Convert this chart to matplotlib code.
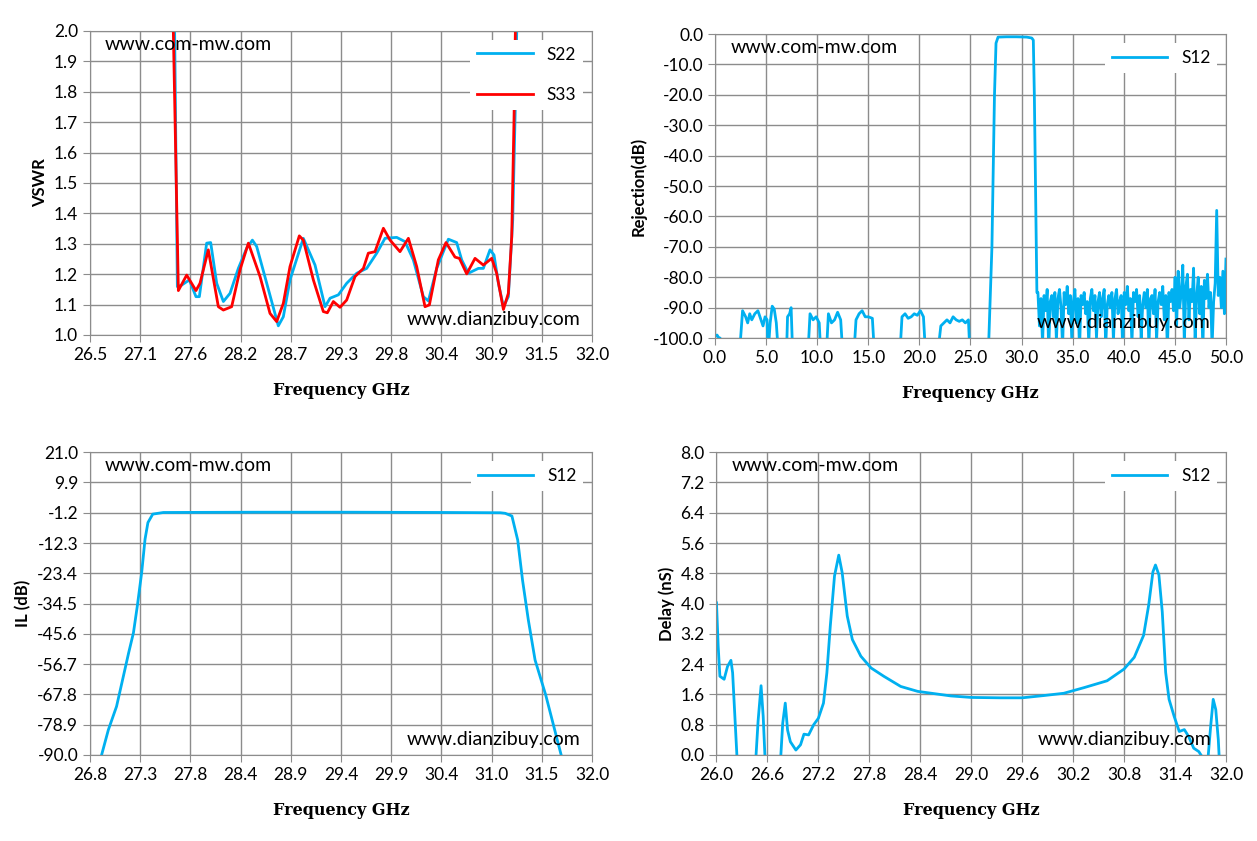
import numpy as np
import matplotlib
matplotlib.use("Agg")
import matplotlib.pyplot as plt

# VSWR (top left)
s22_freq = [27.42, 27.457, 27.504, 27.588, 27.661, 27.698, 27.778, 27.822, 27.888, 27.961, 28.034, 28.125,
            28.216, 28.279, 28.326, 28.436, 28.563, 28.618, 28.691, 28.837, 28.965, 29.075, 29.130, 29.221,
            29.312, 29.422, 29.531, 29.641, 29.732, 29.860, 29.951, 30.042, 30.152, 30.207, 30.298, 30.426,
            30.517, 30.572, 30.645, 30.755, 30.809, 30.882, 30.926, 30.974, 31.029, 31.083, 31.131, 31.160,
            31.175, 31.19]
s22_vswr = [2.2, 1.159, 1.164, 1.181, 1.126, 1.126, 1.302, 1.304, 1.170, 1.110, 1.137, 1.219,
            1.285, 1.312, 1.291, 1.170, 1.030, 1.060, 1.181, 1.318, 1.230, 1.093, 1.121, 1.132,
            1.170, 1.203, 1.219, 1.269, 1.318, 1.321, 1.307, 1.247, 1.126, 1.112, 1.219, 1.315,
            1.304, 1.247, 1.203, 1.219, 1.219, 1.280, 1.263, 1.170, 1.093, 1.126, 1.378, 1.762,
            2.0, 2.2]
s33_freq = [27.40, 27.468, 27.559, 27.661, 27.705, 27.796, 27.906, 27.961, 28.052, 28.143, 28.235, 28.363,
            28.472, 28.545, 28.618, 28.691, 28.793, 28.837, 28.947, 29.056, 29.100, 29.166, 29.239, 29.312,
            29.403, 29.495, 29.549, 29.622, 29.714, 29.787, 29.896, 29.988, 30.079, 30.170, 30.218, 30.316,
            30.400, 30.499, 30.547, 30.627, 30.718, 30.809, 30.901, 30.955, 31.029, 31.083, 31.120, 31.145,
            31.160, 31.17]
s33_vswr = [2.2, 1.146, 1.197, 1.146, 1.170, 1.280, 1.093, 1.082, 1.093, 1.214, 1.302, 1.192,
            1.071, 1.044, 1.104, 1.225, 1.326, 1.312, 1.181, 1.077, 1.073, 1.110, 1.091, 1.115,
            1.192, 1.219, 1.269, 1.274, 1.351, 1.312, 1.274, 1.318, 1.225, 1.093, 1.099, 1.247,
            1.304, 1.256, 1.252, 1.201, 1.252, 1.230, 1.252, 1.203, 1.084, 1.137, 1.323, 1.707,
            2.0, 2.2]
vswr_xlabels = ["26.5", "27.1", "27.6", "28.2", "28.7", "29.3", "29.8", "30.4", "30.9", "31.5", "32.0"]

# Rejection (top right)
rej_freq = [0.0, 0.2, 0.35, 0.5, 0.7,
            2.4, 2.7, 3.0, 3.2, 3.4, 3.6, 3.9, 4.2, 4.5, 4.7, 4.9, 5.1, 5.2, 5.4, 5.6, 5.8, 6.0, 6.2,
            7.0, 7.1, 7.3, 7.45, 7.6,
            9.1, 9.3, 9.6, 9.9, 10.2, 10.35,
            10.9, 11.1, 11.4, 11.7, 12.0, 12.3, 12.5,
            13.6, 13.8, 14.1, 14.4, 14.7, 15.0, 15.4, 15.6,
            18.1, 18.3, 18.6, 18.9, 19.2, 19.5, 19.8, 20.1, 20.4, 20.6,
            21.8, 22.1, 22.4, 22.7, 23.0, 23.3, 23.6, 23.9, 24.2, 24.5, 24.8, 24.95,
            26.5, 26.8, 27.1, 27.35, 27.5, 27.7, 28.5, 29.5, 30.5, 31.0, 31.15, 31.25, 31.4, 31.5]
rej_db = [-99.5, -99, -99.8, -100, -105,
          -105, -91, -93, -95, -92, -94, -92, -91, -94, -96, -93, -94, -105, -95, -89.5, -90.5, -95, -105,
          -105, -93, -92, -90, -105,
          -105, -92, -94, -93, -95, -105,
          -105, -92, -95, -94, -91.5, -94, -105,
          -105, -94, -92, -91, -93, -93, -93.5, -105,
          -105, -93, -92, -93.5, -93, -92, -92.5, -91, -93, -105,
          -105, -96, -95, -94, -95, -93, -94, -94.5, -94, -95, -94, -105,
          -105, -100, -70, -20, -3, -1.0, -0.9, -0.9, -1.0, -1.3, -2, -20, -60, -85]
noise_db = [-85, -96, -87, -102, -86, -91, -84, -104, -88, -86,
            -93, -85, -101, -87, -84, -90, -103, -85, -89, -83,
            -92, -86, -101, -88, -84, -95, -87, -104, -86, -89,
            -85, -92, -88, -102, -87, -84, -91, -86, -100, -88,
            -85, -93, -87, -84, -103, -89, -86, -90, -85, -101,
            -87, -84, -92, -88, -86, -104, -85, -89, -83, -91,
            -87, -102, -85, -88, -84, -93, -86, -100, -89, -85,
            -90, -84, -103, -87, -86, -92, -84, -101, -88, -85,
            -89, -83, -94, -86, -104, -85, -88, -84, -91, -80,
            -96, -78, -90, -85, -76, -102, -83, -79, -94, -84,
            -88, -77, -101, -86, -80, -92, -83, -104, -81, -87,
            -79, -90, -85, -103, -88, -82, -58, -86, -80, -90, -78, -92, -74]
noise_freq = np.linspace(31.6, 50.0, len(noise_db))

# Insertion loss (bottom left)
il_freq = [26.92, 26.99, 27.075, 27.13, 27.2, 27.25, 27.29, 27.335, 27.37, 27.40, 27.45, 27.56,
           28.5, 29.5, 30.5, 31.05, 31.1, 31.17, 31.23, 31.28, 31.34, 31.41, 31.52, 31.60, 31.68]
il_db = [-90, -80.8, -72.2, -63.6, -52.6, -45.2, -35.4, -23.2, -10.9, -4.8, -1.7, -1.1,
         -1.0, -1.0, -1.1, -1.2, -1.4, -2.4, -11.2, -25.9, -40.5, -55.2, -68, -79, -90]

# Group delay (bottom right)
dl_freq = [26.0, 26.02, 26.04, 26.09, 26.13, 26.17, 26.19, 26.24, 26.26,
           26.45, 26.466, 26.49, 26.525, 26.55, 26.57, 26.59,
           26.74, 26.758, 26.78, 26.81, 26.837, 26.87, 26.935, 26.99, 27.03, 27.085, 27.145, 27.20,
           27.26, 27.30, 27.34, 27.39, 27.44, 27.48, 27.54, 27.60, 27.70, 27.82, 27.97, 28.17, 28.37,
           28.76, 29.0, 29.345, 29.6, 29.855, 30.09, 30.33, 30.60, 30.80, 30.92, 31.03, 31.09, 31.14,
           31.17, 31.21, 31.25, 31.29, 31.33, 31.39, 31.45, 31.51, 31.56, 31.62, 31.68, 31.72, 31.74,
           31.77, 31.79, 31.82, 31.85, 31.88, 31.91, 31.92, 31.94]
dl_ns = [4.02, 2.87, 2.08, 2.0, 2.34, 2.50, 2.17, 0.0, -0.3,
         -0.3, 0.0, 0.9, 1.83, 1.02, 0.0, -0.3,
         -0.3, 0.0, 0.84, 1.37, 0.66, 0.35, 0.13, 0.27, 0.55, 0.53, 0.8, 0.97,
         1.37, 2.17, 3.40, 4.73, 5.28, 4.82, 3.67, 3.05, 2.61, 2.30, 2.08, 1.81, 1.68,
         1.56, 1.52, 1.51, 1.51, 1.57, 1.63, 1.78, 1.96, 2.27, 2.58, 3.16, 3.96, 4.84,
         5.02, 4.76, 3.78, 2.18, 1.47, 1.02, 0.62, 0.67, 0.49, 0.18, 0.09, -0.05, -0.3,
         -0.3, -0.05, 0.76, 1.47, 1.2, 0.4, -0.05, -0.3]

BLUE = "#00b0f0"
RED = "#ff0000"
GRID = "#8c8c8c"
TICKFONT = "Lato"

fig = plt.figure(figsize=(12.57, 8.41), dpi=100)
ax_vswr = fig.add_axes([0.0716, 0.6017, 0.3994, 0.3615])
ax_rej = fig.add_axes([0.5688, 0.598, 0.4065, 0.3615])
ax_il = fig.add_axes([0.0716, 0.1023, 0.3994, 0.360])
ax_dl = fig.add_axes([0.5700, 0.1023, 0.4053, 0.360])


def style(ax, xlim, xticks, ylim, yticks, ylabel, xlabels=None):
    ax.set_xlim(xlim)
    ax.set_ylim(ylim)
    ax.set_xticks(xticks)
    ax.set_yticks(yticks)
    if xlabels is None:
        xlabels = [f"{v:.1f}" for v in xticks]
    ax.set_xticklabels(xlabels, fontsize=12.5, family=TICKFONT)
    ax.set_yticklabels([f"{v:.1f}" for v in yticks], fontsize=12.5, family=TICKFONT)
    ax.grid(True, color=GRID, linewidth=1)
    ax.set_axisbelow(True)
    for sp in ax.spines.values():
        sp.set_color(GRID)
    ax.tick_params(color=GRID, length=5, direction="out")
    ax.set_xlabel("Frequency GHz", fontsize=11.5, family="DejaVu Serif", fontweight="bold", labelpad=14)
    ax.set_ylabel(ylabel, fontsize=12, family=TICKFONT, fontweight="bold")
    ax.text(0.03, 0.955, "www.com-mw.com", transform=ax.transAxes, fontsize=14,
            family=TICKFONT, va="center", ha="left")
    ax.text(0.63, 0.05, "www.dianzibuy.com", transform=ax.transAxes, fontsize=14,
            family=TICKFONT, va="center", ha="left")


def legend(ax, spacing=0.8):
    leg = ax.legend(loc="upper right", prop={"family": TICKFONT, "size": 12.5},
                    frameon=True, fancybox=False, handlelength=3.2, labelspacing=spacing,
                    borderaxespad=0.5)
    leg.get_frame().set_facecolor("white")
    leg.get_frame().set_edgecolor("none")
    leg.get_frame().set_alpha(1)


ax_vswr.plot(s22_freq, s22_vswr, color=BLUE, lw=2, label="S22")
ax_vswr.plot(s33_freq, s33_vswr, color=RED, lw=2, label="S33")
style(ax_vswr, (26.5, 32.0), np.linspace(26.5, 32.0, 11), (1.0, 2.0), np.linspace(1.0, 2.0, 11), "VSWR",
      xlabels=vswr_xlabels)
legend(ax_vswr, spacing=1.4)

ax_rej.plot(rej_freq + list(noise_freq), rej_db + noise_db, color=BLUE, lw=2, label="S12")
style(ax_rej, (0, 50), np.linspace(0, 50, 11), (-100, 0), np.linspace(-100, 0, 11), "Rejection(dB)")
legend(ax_rej)

ax_il.plot(il_freq, il_db, color=BLUE, lw=2, label="S12")
style(ax_il, (26.8, 32.0), np.linspace(26.8, 32.0, 11), (-90, 21), np.linspace(-90, 21, 11), "IL (dB)")
legend(ax_il)

ax_dl.plot(dl_freq, dl_ns, color=BLUE, lw=2, label="S12")
style(ax_dl, (26.0, 32.0), np.linspace(26.0, 32.0, 11), (0, 8), np.linspace(0, 8, 11), "Delay (nS)")
legend(ax_dl)

fig.savefig("out.png", dpi=100)
